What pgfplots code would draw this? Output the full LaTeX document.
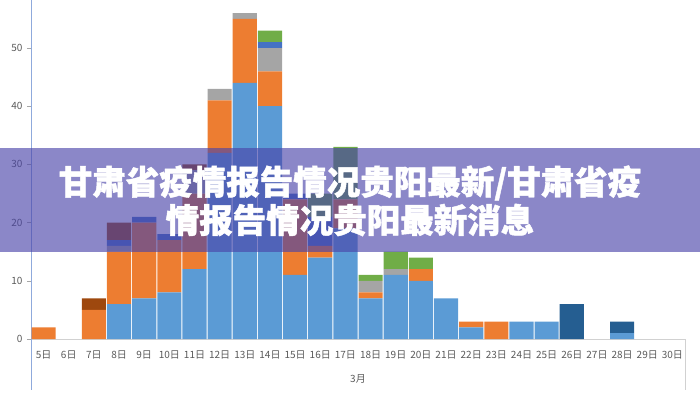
\documentclass[border=0pt]{standalone}
\usepackage{pgfplots}
\pgfplotsset{compat=1.18}
\usepackage{pgfplotstable}
\usepackage{fontspec}
\setmainfont{Noto Sans CJK SC}
\newfontfamily\titlefont{Noto Sans CJK SC}[BoldFeatures={FakeBold=1.3}]
\definecolor{cblue}{HTML}{5B9BD5}
\definecolor{corange}{HTML}{ED7D31}
\definecolor{cgray}{HTML}{A5A5A5}
\definecolor{cdblue}{HTML}{4472C4}
\definecolor{cgreen}{HTML}{70AD47}
\definecolor{cnavy}{HTML}{255E91}
\definecolor{cbrown}{HTML}{9E480E}
\definecolor{ctick}{HTML}{595959}
\definecolor{cyaxis}{HTML}{8FAADC}
\definecolor{cband}{RGB}{74,68,169}
\pgfplotstableread{
x blue orange gray dblue green navy brown
0 0 2 0 0 0 0 0
1 0 0 0 0 0 0 0
2 0 5 0 0 0 0 2
3 6 9 1 1 0 0 3
4 7 13 0 1 0 0 0
5 8 9 0 1 0 0 0
6 12 13 4 0 0 0 1
7 32 9 2 0 0 0 0
8 44 11 1 0 0 0 0
9 40 6 4 1 2 0 0
10 11 13 0 1 0 0 0
11 14 2 0 5 4 0 0
12 19 5 0 0 9 0 0
13 7 1 2 0 1 0 0
14 11 0 1 0 3 0 0
15 10 2 0 0 2 0 0
16 7 0 0 0 0 0 0
17 2 1 0 0 0 0 0
18 0 3 0 0 0 0 0
19 3 0 0 0 0 0 0
20 3 0 0 0 0 0 0
21 0 0 0 0 0 6 0
22 0 0 0 0 0 0 0
23 1 0 0 0 0 2 0
24 0 0 0 0 0 0 0
25 0 0 0 0 0 0 0
}\data
\begin{document}
\begin{tikzpicture}[x=1pt,y=1pt]
\useasboundingbox (0,0) rectangle (700,400);
\begin{axis}[
  at={(31pt,61pt)}, anchor=south west, scale only axis,
  width=654pt, height=339pt,
  xmin=-0.5, xmax=25.5, ymin=0, ymax=58.25,
  ybar stacked, bar width=0.96,
  axis x line=bottom, axis y line=left,
  x axis line style={draw=black!18, -},
  y axis line style={draw=cyaxis, -},
  xtick={0,...,25},
  xticklabels={5日,6日,7日,8日,9日,10日,11日,12日,13日,14日,15日,16日,17日,18日,19日,20日,21日,22日,23日,24日,25日,26日,27日,28日,29日,30日},
  ytick={0,10,20,30,40,50},
  x tick style={draw=none},
  y tick style={draw=black!35, thin},
  tick align=outside,
  major tick length=4pt,
  /pgf/number format/assume math mode=true,
  xticklabel style={font=\fontsize{10}{10}\selectfont, text=ctick, yshift=-8pt, inner sep=0pt},
  yticklabel style={font=\fontsize{10}{10}\selectfont, text=ctick, xshift=-1pt},
  xlabel={3月},
  xlabel style={font=\fontsize{10}{10}\selectfont, text=ctick, yshift=-11pt},
  clip=false,
]
\addplot[fill=cblue, draw=none] table[x=x, y=blue] {\data};
\addplot[fill=corange, draw=none] table[x=x, y=orange] {\data};
\addplot[fill=cgray, draw=none] table[x=x, y=gray] {\data};
\addplot[fill=cdblue, draw=none] table[x=x, y=dblue] {\data};
\addplot[fill=cgreen, draw=none] table[x=x, y=green] {\data};
\addplot[fill=cnavy, draw=none] table[x=x, y=navy] {\data};
\addplot[fill=cbrown, draw=none] table[x=x, y=brown] {\data};
\end{axis}
\draw[cyaxis] (31,61) -- (31,10);
\draw[black!18] (685,61) -- (685,10);
\fill[cband, opacity=0.64] (0,148) rectangle (700,252);
\node[text=white, font=\titlefont\fontsize{33.5}{33.5}\selectfont\bfseries, inner sep=0pt] at (350,217) {甘肃省疫情报告情况贵阳最新/甘肃省疫};
\node[text=white, font=\titlefont\fontsize{33.5}{33.5}\selectfont\bfseries, inner sep=0pt] at (350,180) {情报告情况贵阳最新消息};
\end{tikzpicture}
\end{document}
